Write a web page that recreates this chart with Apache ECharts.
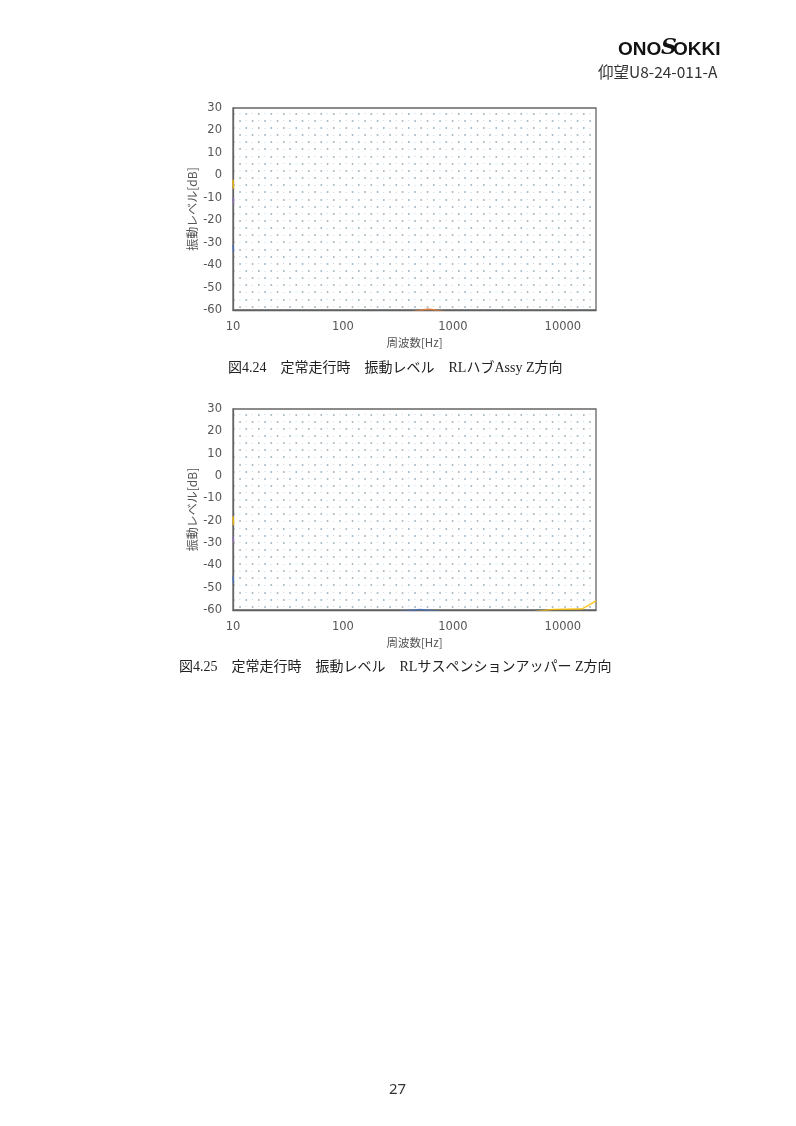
<!DOCTYPE html>
<html><head><meta charset="utf-8">
<script src="https://cdn.jsdelivr.net/npm/echarts@6/dist/echarts.min.js"></script>
<style>html,body{margin:0;padding:0;background:#fff}#c{width:796px;height:1126px}</style>
</head><body><div id="c"></div>
<script>
// ---- data ----
const xTickLabels = [10, 100, 1000, 10000];
const yTicks = [30, 20, 10, 0, -10, -20, -30, -40, -50, -60];
const captions = ['図4.24　定常走行時　振動レベル　RLハブAssy Z方向', '図4.25　定常走行時　振動レベル　RLサスペンションアッパー Z方向'];
// chart 1 (図4.24) visible trace fragments (the rest lies off the plot)
const c1Blue   = [[10, -31], [10.12, -34]];
const c1Yellow = [[10, -2], [10.12, -6]];
const c1Purple = [[10, -10], [10.12, -13]];
const c1Orange = [[400, -61], [600, -59.6], [900, -61]];
// chart 2 (図4.25)
const c2Blue   = [[10, -45], [10.12, -48]];
const c2BlueLow = [[300, -61], [500, -59.8], [900, -61]];
const c2Yellow = [[10, -18], [10.12, -22]];
const c2YellowLow = [[5000, -61], [8000, -59.8], [15000, -59.5], [20000, -56]];
const c2Purple = [[10, -27], [10.12, -30]];

const chart = echarts.init(document.getElementById('c'));
const LAB = '#555';
const charts = [{top: 108, h: 202}, {top: 409, h: 201}];
const grids = [], xAxes = [], yAxes = [], series = [];
const seriesSets = [
  [[c1Blue, '#4472C4'], [c1Yellow, '#FFC000'], [c1Purple, '#8e6fb5'], [c1Orange, '#ED7D31']],
  [[c2Blue, '#4472C4'], [c2BlueLow, '#4472C4'], [c2Yellow, '#FFC000'], [c2YellowLow, '#FFC000'], [c2Purple, '#8e6fb5']]
];
charts.forEach((c, ci) => {
  const gi = grids.length;
  grids.push({left: 233, top: c.top, width: 363, height: c.h, show: true, borderColor: '#666', borderWidth: 1.3, backgroundColor: 'transparent', z: 3});
  xAxes.push({gridIndex: gi, type: 'log', logBase: 10, min: 10, max: 20000,
    axisLine: {show: true, onZero: false, lineStyle: {color: '#555', width: 1.3}}, axisTick: {show: false},
    splitLine: {show: false}, minorSplitLine: {show: false},
    axisLabel: {color: LAB, fontSize: 11.5, fontFamily: 'DejaVu Sans', margin: 11,
      formatter: v => (xTickLabels.indexOf(Math.round(v)) >= 0 ? String(Math.round(v)) : '')},
    name: '周波数[Hz]', nameLocation: 'middle', nameGap: 27,
    nameTextStyle: {color: LAB, fontSize: 11.5, fontFamily: 'Noto Sans CJK JP'}});
  yAxes.push({gridIndex: gi, type: 'value', min: -60, max: 30, interval: 10,
    axisLine: {show: true, onZero: false, lineStyle: {color: '#666', width: 1.3}}, axisTick: {show: false},
    splitLine: {show: false},
    axisLabel: {color: LAB, fontSize: 11.5, fontFamily: 'DejaVu Sans', margin: 11},
    name: '振動レベル[dB]', nameLocation: 'middle', nameGap: 35,
    nameTextStyle: {color: LAB, fontSize: 12, fontFamily: 'Noto Sans CJK JP'}});
  // dotted texture grids: two offset row sets, each with a stronger and a faint dot
  const rowGap = (c.h - 9) / 27;
  [[0, 0, '#8ea6b6', 1.6], [1, 6.25, '#8ea6b6', 1.6], [0, 6.25, '#d3dde3', 1.2], [1, 0, '#d3dde3', 1.2]].forEach(([k, off, col, w]) => {
    const g = grids.length;
    grids.push({left: 233, top: c.top + 5.5 + k * rowGap, width: 361, height: rowGap * 26, show: false});
    xAxes.push({gridIndex: g, type: 'value', min: 0, max: 1, show: false});
    yAxes.push({gridIndex: g, type: 'value', min: 0, max: 13, interval: 1,
      axisLine: {show: false}, axisTick: {show: false}, axisLabel: {show: false},
      splitLine: {show: true, lineStyle: {color: col, width: w, type: [w, 12.5 - w], dashOffset: off}}});
  });
  seriesSets[ci].forEach(([d, col]) => {
    series.push({type: 'line', xAxisIndex: gi, yAxisIndex: gi, data: d, showSymbol: false, clip: true,
      lineStyle: {color: col, width: 1.6, opacity: 0.8}, silent: true, z: 4});
  });
});

chart.setOption({
  animation: false,
  grid: grids, xAxis: xAxes, yAxis: yAxes, series: series,
  graphic: [
    {type: 'text', left: 618, top: 40, style: {text: 'ONO', fill: '#111', font: 'bold 19px "Liberation Sans"'}},
    {type: 'text', left: 661, top: 37, style: {text: 'S', fill: '#111', font: 'italic bold 22px "DejaVu Serif"'}},
    {type: 'text', left: 673, top: 40, style: {text: 'OKKI', fill: '#111', font: 'bold 19px "Liberation Sans"'}},
    {type: 'text', left: 598, top: 64, style: {text: '仰望U8-24-011-A', fill: '#333', font: '15.5px "Noto Sans CJK JP"'}},
    {type: 'text', left: 228, top: 361, style: {text: captions[0], fill: '#222', font: '14px "Liberation Serif", "Noto Sans CJK JP"'}},
    {type: 'text', left: 179, top: 660, style: {text: captions[1], fill: '#222', font: '14px "Liberation Serif", "Noto Sans CJK JP"'}},
    {type: 'text', left: 389, top: 1082, style: {text: '27', fill: '#333', font: '15px "Noto Sans"'}}
  ]
});
</script></body></html>
